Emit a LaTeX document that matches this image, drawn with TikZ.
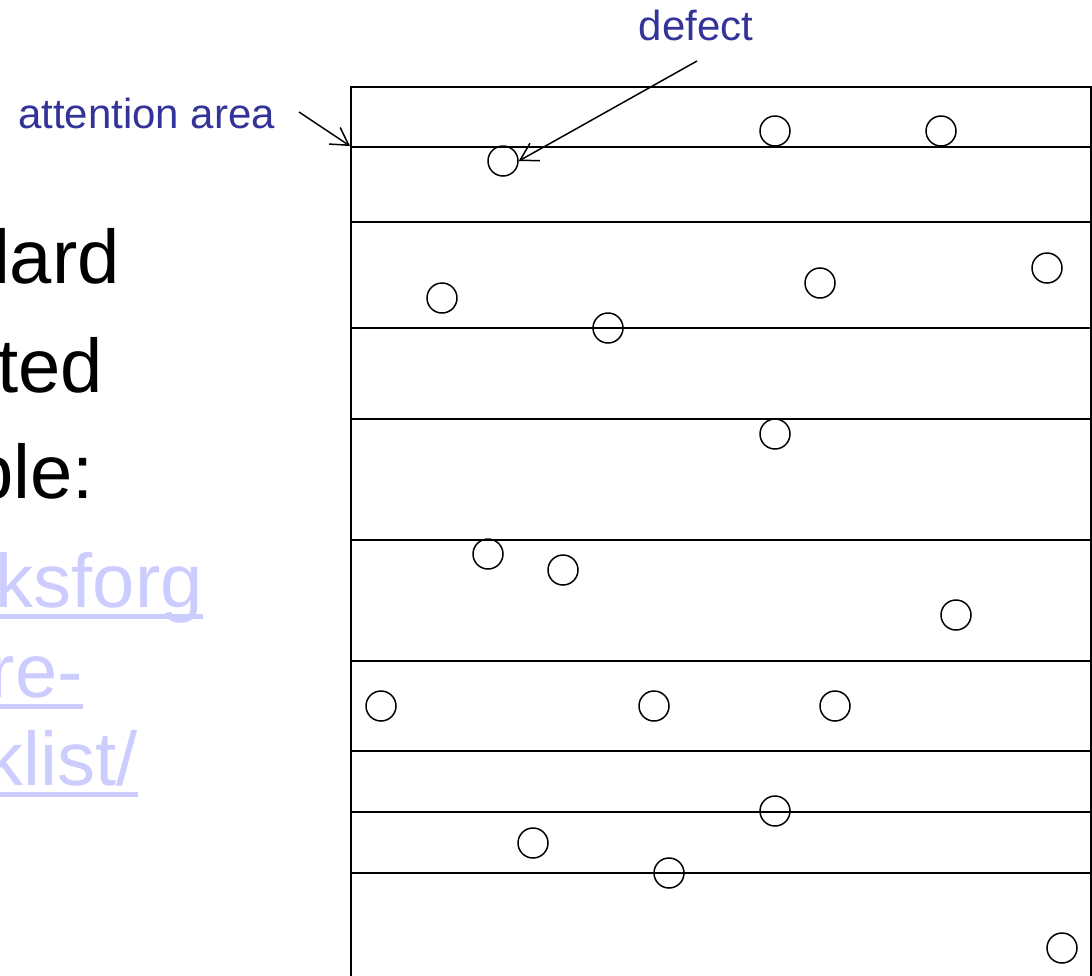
\documentclass[tikz,border=0pt]{standalone}
\usepackage{fontspec}
\setmainfont{Liberation Sans}
\usetikzlibrary{arrows.meta}
\definecolor{lblue}{RGB}{51,51,153}
\definecolor{linkc}{RGB}{204,204,255}
\tikzset{
  grid/.style={line width=1.7pt, black},
  defectc/.style={circle, draw, line width=1.5pt, minimum size=30pt, inner sep=0pt},
  label/.style={text=lblue, font=\fontsize{42}{50}\selectfont, inner sep=0pt},
  bigtext/.style={font=\fontsize{76}{90}\selectfont, inner sep=0pt, anchor=base east},
  linktext/.style={bigtext, text=linkc},
  uline/.style={draw=linkc, line width=5pt},
  barb/.style={-{Straight Barb[length=17pt, width=20pt, line width=1.5pt]}, line width=1.5pt}
}
\begin{document}
\begin{tikzpicture}[x=1pt, y=-1pt]
\useasboundingbox (0,0) rectangle (1092,975);
\clip (0,0) rectangle (1092,975);
% left text (cut off at the left edge)
\node[bigtext] (t1) at (120,283) {lard};
\node[bigtext] (t2) at (103,392) {ted};
\node[bigtext] (t3) at (94,498) {ple:};
\node[linktext] (t4) at (203,607) {ksforg};
\node[linktext] (t5) at (83,697) {re-};
\node[linktext] (t6) at (138,785) {klist/};
\foreach \n in {t4,t5,t6}{
  \draw[uline] ([yshift=-9pt]\n.base west) -- ([yshift=-9pt]\n.base east);
}
% box
\coordinate (tl) at (351,87);
\coordinate (tr) at (1091,87);
\coordinate (bl) at (351,980);
\coordinate (br) at (1091,980);
\draw[grid] (bl) -- (tl) -- (tr) -- (br);
\foreach \y in {147,222,328,419,540,661,751,812,873}{
  \draw[grid] (351,\y) -- (1091,\y);
}
\coordinate (corner) at (350,146);
% defects
\node[defectc] (d1) at (775,131) {};
\node[defectc] (d2) at (941,131) {};
\node[defectc] (d3) at (503,161) {};
\node[defectc] (d4) at (1047,268) {};
\node[defectc] (d5) at (820,283) {};
\node[defectc] (d6) at (442,298) {};
\node[defectc] (d7) at (608,328) {};
\node[defectc] (d8) at (775,434) {};
\node[defectc] (d9) at (488,554) {};
\node[defectc] (d10) at (563,570) {};
\node[defectc] (d11) at (956,615) {};
\node[defectc] (d12) at (381,706) {};
\node[defectc] (d13) at (654,706) {};
\node[defectc] (d14) at (835,706) {};
\node[defectc] (d15) at (775,811) {};
\node[defectc] (d16) at (533,843) {};
\node[defectc] (d17) at (669,873) {};
\node[defectc] (d18) at (1062,948) {};
% labels
\node[label, anchor=base] (attn) at (146.5,128) {attention area};
\node[label, anchor=base] (defl) at (696,40) {defect};
\coordinate (attnStart) at (299,112);
\coordinate (defStart) at (697,61);
\draw[barb] (attnStart) -- (corner);
\draw[barb] (defStart) -- (d3.east);
\end{tikzpicture}
\end{document}
